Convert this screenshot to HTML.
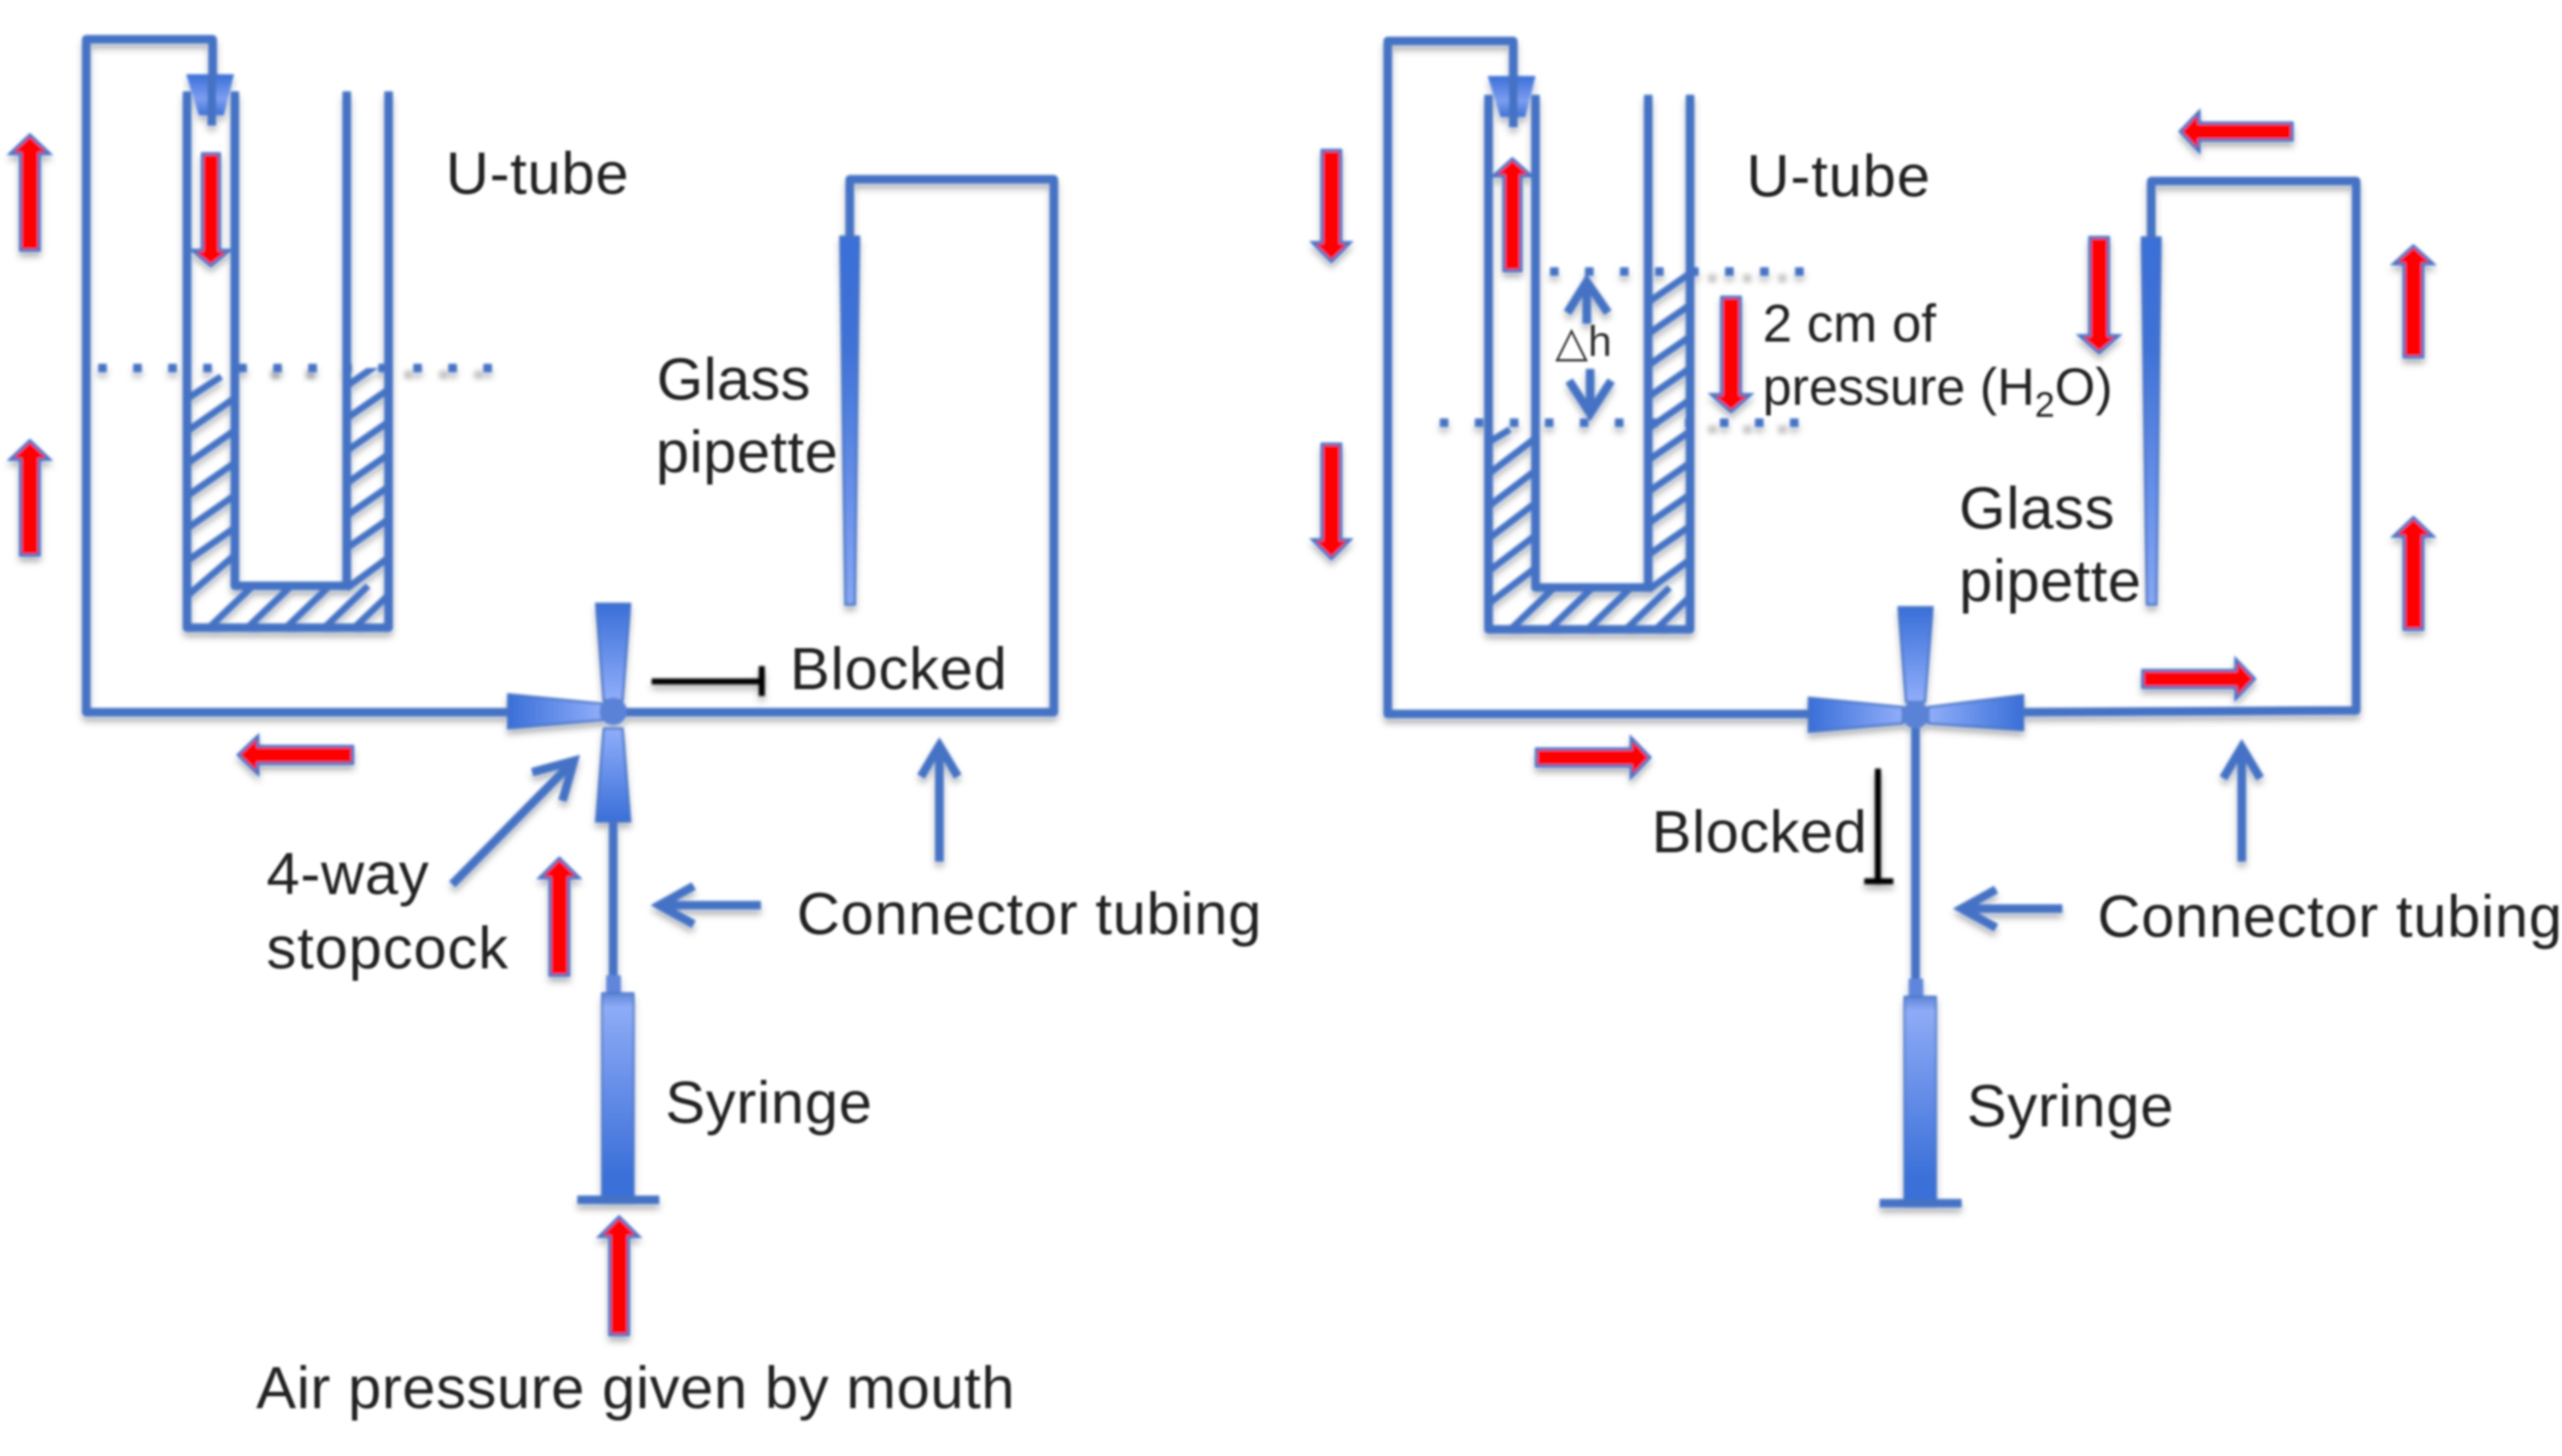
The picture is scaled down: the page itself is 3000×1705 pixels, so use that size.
<!DOCTYPE html>
<html><head><meta charset="utf-8"><style>
html,body{margin:0;padding:0;background:#fff;width:3000px;height:1705px;overflow:hidden}
svg{display:block}
text{font-family:"Liberation Sans","DejaVu Sans",sans-serif;font-size:70px;fill:#222}
.l{fill:none;stroke:#4472C4;stroke-width:10;stroke-linejoin:round}
.h{fill:none;stroke:#4472C4;stroke-width:8}
.d{fill:none;stroke:#4472C4;stroke-width:10;stroke-dasharray:10 31}
.g{fill:none;stroke:#c8c8c8;stroke-width:10;stroke-dasharray:10 31}
.t{fill:none;stroke:#4472C4;stroke-width:10;stroke-linecap:square}
.r{fill:#FF0000;stroke:#4472C4;stroke-width:3.5}
.k{fill:none;stroke:#000;stroke-width:7}
.e{stroke:#4472C4;stroke-width:2.5}
</style></head><body>
<svg width="3000" height="1705" viewBox="0 0 3000 1705" xmlns="http://www.w3.org/2000/svg">
<defs>
<filter id="s" x="0" y="0" width="3000" height="1705" filterUnits="userSpaceOnUse" primitiveUnits="userSpaceOnUse">
<feGaussianBlur in="SourceGraphic" stdDeviation="1.6" result="b"/>
<feDropShadow in="b" dx="0" dy="6" stdDeviation="4" flood-color="#000" flood-opacity="0.3"/>
</filter>
<filter id="b" x="0" y="0" width="3000" height="1705" filterUnits="userSpaceOnUse"><feGaussianBlur stdDeviation="1.3"/></filter>
<filter id="b2" x="0" y="0" width="3000" height="1705" filterUnits="userSpaceOnUse"><feGaussianBlur stdDeviation="3"/></filter>
<linearGradient id="gt" x1="0" y1="0" x2="0" y2="1"><stop offset="0" stop-color="#3a6fd8"/><stop offset="1" stop-color="#90aefa"/></linearGradient>
<linearGradient id="gb" x1="0" y1="1" x2="0" y2="0"><stop offset="0" stop-color="#3a6fd8"/><stop offset="1" stop-color="#90aefa"/></linearGradient>
<linearGradient id="gl" x1="0" y1="0" x2="1" y2="0"><stop offset="0" stop-color="#3a6fd8"/><stop offset="1" stop-color="#90aefa"/></linearGradient>
<linearGradient id="gr" x1="1" y1="0" x2="0" y2="0"><stop offset="0" stop-color="#3a6fd8"/><stop offset="1" stop-color="#90aefa"/></linearGradient>
<linearGradient id="gs" x1="0" y1="0" x2="0" y2="1"><stop offset="0" stop-color="#5f86d8"/><stop offset="0.07" stop-color="#8eabf6"/><stop offset="0.9" stop-color="#3a6fd8"/><stop offset="1" stop-color="#3a6fd8"/></linearGradient>
<linearGradient id="gf" x1="0" y1="0" x2="0" y2="1"><stop offset="0" stop-color="#3a6fd8"/><stop offset="0.6" stop-color="#7c9ef0"/><stop offset="1" stop-color="#3f72d6"/></linearGradient>
<linearGradient id="gp" x1="0" y1="0" x2="0" y2="1"><stop offset="0" stop-color="#3a6fd8"/><stop offset="0.3" stop-color="#3f72d6"/><stop offset="1" stop-color="#86a6f4"/></linearGradient>
<clipPath id="c1"><path d="M219 431H275V686H406V431H455V735H219Z"/></clipPath>
<clipPath id="c2"><path d="M1743 495H1798V688H1930V318H1979V737H1743Z"/></clipPath>
</defs>
<rect width="3000" height="1705" fill="#fff"/>
<g filter="url(#b2)">
<path class="g" d="M317 439H400M473 439H595"/>
<path class="g" d="M2000 503H2120M2000 326H2100"/>
</g>
<g filter="url(#s)">
<!-- LEFT PANEL -->
<path class="l" d="M249 110V46H101V834H1234V210H995V280"/>
<path class="l" d="M219 107V735H455V107M275 107V686H406V107"/>
<path class="h" clip-path="url(#c1)" d="M219 467L259 441M219 505L275 466M219 543L275 504M219 581L275 542M219 619L275 580M219 657L275 618M219 698L275 650M406 452L455 418M406 490L455 456M406 528L455 494M406 566L455 532M406 604L455 570M406 642L455 608M406 689L455 653M245 735L296 686M290 735L341 686M335 735L386 686M380 735L431 686M415 735L460 692"/>
<line class="d" x1="115" y1="431" x2="576" y2="431"/>
<path fill="url(#gf)" d="M218 87H274L262 135H233Z"/>
<path class="l" d="M248 87V147"/>
<path class="e" fill="url(#gp)" d="M984 277H1006L1001 708H990Z"/>
<line class="l" x1="718" y1="955" x2="718" y2="1150"/>
<path class="e" fill="url(#gt)" d="M698 707H738L729 820H707Z"/>
<path class="e" fill="url(#gb)" d="M707 853H729L738 962H698Z"/>
<path class="e" fill="url(#gl)" d="M595 813L705 824V843L595 853Z"/>
<circle cx="718" cy="833" r="16" fill="#5a82d6"/>
<rect x="710" y="1142" width="17" height="24" fill="#5f86dc"/>
<rect x="705" y="1163" width="37" height="240" fill="url(#gs)" stroke="#4472C4" stroke-width="2"/>
<rect x="676" y="1400" width="96" height="10" fill="#4472C4"/>
<path class="t" stroke-linecap="butt" d="M533 1032L665 898M628 903L672 891L660 933"/>
<path class="t" d="M886 1060H775M808 1040L772 1060L808 1080"/>
<path class="t" d="M1100 1004V880M1081 905L1100 873L1119 905"/>
<path class="k" d="M763 798H892M892 780V815"/>
<polygon class="r" points="35,158 58,180 46,180 46,293 24,293 24,180 12,180"/>
<polygon class="r" points="35,516 58,538 46,538 46,650 24,650 24,538 12,538"/>
<polygon class="r" points="247,311 225,293 237,293 237,180 257,180 257,293 269,293"/>
<polygon class="r" points="279,884 302,862 302,874 413,874 413,894 302,894 302,906"/>
<polygon class="r" points="655,1005 678,1028 666,1028 666,1142 644,1142 644,1028 632,1028"/>
<polygon class="r" points="725,1425 748,1448 736,1448 736,1563 714,1563 714,1448 702,1448"/>
<!-- RIGHT PANEL -->
<path class="l" d="M1772 112V48H1625V836H2118M2369 834L2759 832V212H2519V280"/>
<path class="l" d="M1743 111V737H1979V111M1798 111V688H1930V111"/>
<path class="h" clip-path="url(#c2)" d="M1743 518L1768 503M1743 555L1798 513M1743 593L1798 551M1743 631L1798 589M1743 669L1798 627M1743 707L1798 665M1930 354L1985 316M1930 391L1985 353M1930 428L1985 390M1930 465L1985 427M1930 502L1985 464M1930 539L1985 501M1930 576L1985 538M1930 613L1985 575M1930 650L1985 612M1930 691L1985 651M1769 737L1820 688M1814 737L1865 688M1859 737L1910 688M1904 737L1955 688M1939 737L1984 694"/>
<line class="d" x1="1815" y1="318" x2="2113" y2="318"/>
<line class="d" x1="1686" y1="495" x2="2107" y2="495"/>
<path fill="url(#gf)" d="M1742 89H1798L1786 137H1757Z"/>
<path class="l" d="M1772 89V149"/>
<path class="e" fill="url(#gp)" d="M2508 278H2530L2525 708H2514Z"/>
<line class="l" x1="2243" y1="837" x2="2243" y2="1150"/>
<path class="e" fill="url(#gt)" d="M2223 711H2263L2254 822H2232Z"/>
<path class="e" fill="url(#gl)" d="M2118 817L2228 828V847L2118 857Z"/>
<path class="e" fill="url(#gr)" d="M2369 814L2258 828V847L2369 855Z"/>
<circle cx="2243" cy="837" r="16" fill="#5a82d6"/>
<rect x="2235" y="1146" width="17" height="24" fill="#5f86dc"/>
<rect x="2230" y="1167" width="37" height="240" fill="url(#gs)" stroke="#4472C4" stroke-width="2"/>
<rect x="2201" y="1404" width="96" height="10" fill="#4472C4"/>
<path class="t" d="M2410 1064H2301M2333 1044L2297 1064L2333 1084"/>
<path class="t" d="M2625 1004V882M2606 907L2625 875L2644 907"/>
<path class="t" stroke-width="12" d="M1858 374V335M1838 362L1858 330L1880 362"/>
<path class="t" stroke-width="12" d="M1862 437V478M1840 450L1862 484L1884 450"/>
<path class="k" d="M2199 900V1032M2183 1032H2217"/>
<polygon class="r" points="1559,306 1537,284 1548,284 1548,176 1570,176 1570,284 1581,284"/>
<polygon class="r" points="1559,654 1537,632 1548,632 1548,520 1570,520 1570,632 1581,632"/>
<polygon class="r" points="1771,186 1793,206 1781,206 1781,317 1761,317 1761,206 1749,206"/>
<polygon class="r" points="2553,154 2575,131 2575,144 2684,144 2684,164 2575,164 2575,177"/>
<polygon class="r" points="2458,413 2435,393 2447,393 2447,278 2469,278 2469,393 2481,393"/>
<polygon class="r" points="1932,887 1910,864 1910,877 1799,877 1799,897 1910,897 1910,910"/>
<polygon class="r" points="2640,795 2618,772 2618,785 2509,785 2509,805 2618,805 2618,818"/>
<polygon class="r" points="2826,288 2849,309 2837,309 2837,418 2815,418 2815,309 2803,309"/>
<polygon class="r" points="2826,606 2849,628 2837,628 2837,737 2815,737 2815,628 2803,628"/>
<polygon class="r" points="2027,482 2004,462 2016,462 2016,348 2038,348 2038,462 2050,462"/>
</g>
<g filter="url(#b)">
<text x="522" y="227" textLength="214">U-tube</text>
<text x="769" y="468" textLength="180">Glass</text>
<text x="768" y="553" textLength="213">pipette</text>
<text x="925" y="807" textLength="254">Blocked</text>
<text x="312" y="1047" textLength="190">4-way</text>
<text x="312" y="1134" textLength="283">stopcock</text>
<text x="933" y="1094" textLength="544">Connector tubing</text>
<text x="779" y="1315" textLength="242">Syringe</text>
<text x="300" y="1649" textLength="888">Air pressure given by mouth</text>
<text x="2045" y="230" textLength="215">U-tube</text>
<text x="2064" y="400" textLength="203" style="font-size:62px">2 cm of</text>
<text x="2064" y="474" style="font-size:61px">pressure (H<tspan dy="14" style="font-size:42px">2</tspan><tspan dy="-14">O)</tspan></text>
<text x="1821" y="417" style="font-size:50px;fill:#333">△h</text>
<text x="2294" y="619" textLength="182">Glass</text>
<text x="2294" y="704" textLength="213">pipette</text>
<text x="1934" y="998" textLength="252">Blocked</text>
<text x="2456" y="1097" textLength="544">Connector tubing</text>
<text x="2303" y="1319" textLength="242">Syringe</text>
</g>
</svg>
</body></html>
